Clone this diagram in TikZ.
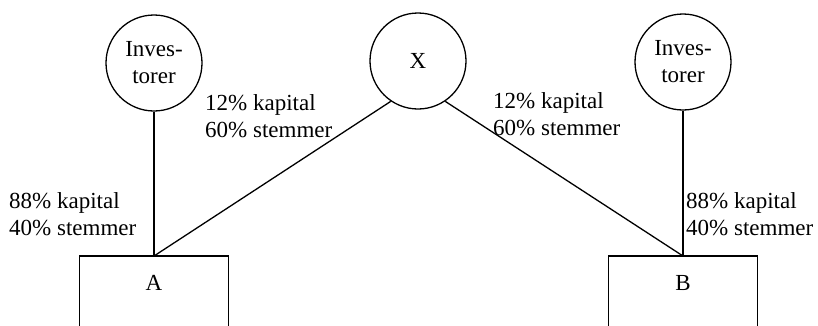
\documentclass[tikz,border=0pt]{standalone}
\usepackage{fontspec}
\setmainfont{Liberation Serif}
\begin{document}
\begin{tikzpicture}[x=1pt,y=-1pt,
  owner/.style={draw, circle, minimum size=96pt, inner sep=0pt, align=center,
    line width=1.3pt, font=\fontsize{23}{27}\selectfont},
  firm/.style={minimum width=148pt, minimum height=54pt, inner sep=0pt,
    anchor=north, font=\fontsize{23}{27}\selectfont},
  share/.style={align=left, inner sep=0pt, anchor=base west,
    font=\fontsize{23}{27}\selectfont},
  link/.style={line width=1.3pt}]
\useasboundingbox (0,0) rectangle (818,325);
\clip (0,0) rectangle (818,325);

% owners
\node[owner] (invA) at (154,63) {Inves-\\torer};
\node[owner] (X)    at (418,61) {X};
\node[owner] (invB) at (683,62) {Inves-\\torer};

% companies (boxes run off the lower edge)
\node[firm] (A) at (154,256) {A};
\node[firm] (B) at (683,256) {B};
\draw[link] ([yshift=-30pt]A.south west) -- (A.north west) -- (A.north east) -- ([yshift=-30pt]A.south east);
\draw[link] ([yshift=-30pt]B.south west) -- (B.north west) -- (B.north east) -- ([yshift=-30pt]B.south east);

% ownership links
\draw[link] (invA) -- (A.north);
\draw[link] (X.236) -- (A.north);
\draw[link] (X.304) -- (B.north);
\draw[link] (invB) -- (B.north);

% shares (anchored at the baseline of the second line)
\node[share] (sA1) at (9,235)   {88\% kapital\\40\% stemmer};
\node[share] (sA2) at (205,137) {12\% kapital\\60\% stemmer};
\node[share] (sB2) at (493,135) {12\% kapital\\60\% stemmer};
\node[share] (sB1) at (686,235) {88\% kapital\\40\% stemmer};
\end{tikzpicture}
\end{document}
